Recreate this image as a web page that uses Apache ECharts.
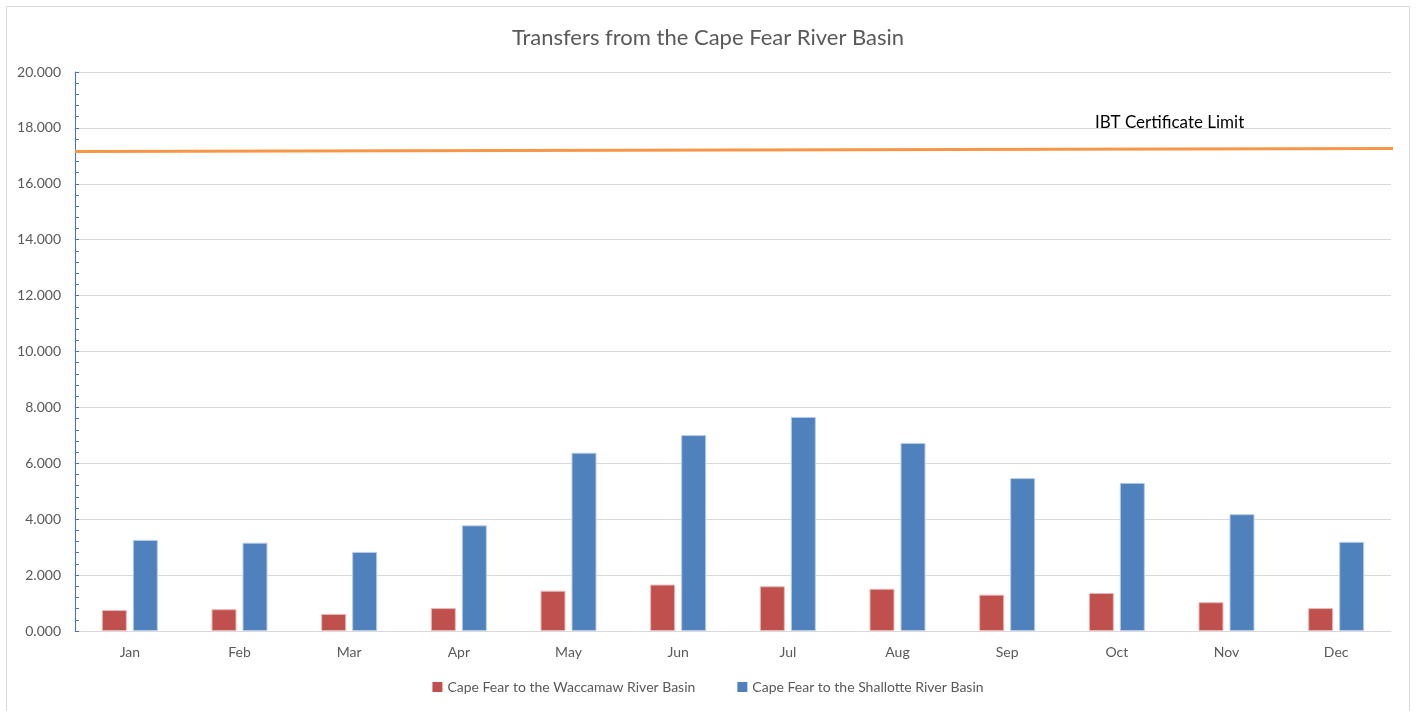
<!DOCTYPE html>
<html>
<head>
<meta charset="utf-8">
<script src="https://cdn.jsdelivr.net/npm/echarts@6/dist/echarts.min.js"></script>
<style>
  html, body { margin: 0; padding: 0; background: #fff; }
  #main { width: 1416px; height: 711px; }
</style>
</head>
<body>
<div id="main"></div>
<script>
// data
var months = ['Jan', 'Feb', 'Mar', 'Apr', 'May', 'Jun', 'Jul', 'Aug', 'Sep', 'Oct', 'Nov', 'Dec'];
var waccamaw = [0.75, 0.78, 0.61, 0.82, 1.44, 1.66, 1.60, 1.51, 1.30, 1.36, 1.03, 0.82];
var shallotte = [3.26, 3.16, 2.83, 3.78, 6.38, 7.01, 7.66, 6.73, 5.47, 5.30, 4.18, 3.19];
var limitX = [0, 1];
var limitY = [17.16, 17.26];

var font = 'Lato, "Liberation Sans", sans-serif';
var grey = '#595959';

var chart = echarts.init(document.getElementById('main'));

var option = {
    animation: false,
    textStyle: { fontFamily: font },
    title: {
        text: 'Transfers from the Cape Fear River Basin',
        left: 'center',
        top: 22,
        textStyle: { color: grey, fontSize: 22, fontWeight: 'normal', fontFamily: font }
    },
    legend: {
        bottom: 12,
        left: 'center',
        itemWidth: 10,
        itemHeight: 10,
        itemGap: 42,
        icon: 'rect',
        itemStyle: { borderWidth: 0 },
        textStyle: { color: grey, fontSize: 14, fontFamily: font },
        data: ['Cape Fear to the Waccamaw River Basin', 'Cape Fear to the Shallotte River Basin']
    },
    grid: { left: 75, right: 25, top: 72, bottom: 80 },
    xAxis: [
        {
            type: 'category',
            data: months,
            axisLine: { lineStyle: { color: '#d9d9d9' } },
            axisTick: { show: false },
            axisLabel: { color: grey, fontSize: 14, margin: 14 }
        },
        {
            type: 'value',
            min: 0,
            max: 0.996,
            show: false
        }
    ],
    yAxis: {
        type: 'value',
        min: 0,
        max: 20,
        interval: 2,
        axisLine: { show: true, lineStyle: { color: '#4472C4', width: 1 } },
        axisTick: { show: true, inside: true, length: 4, lineStyle: { color: '#4472C4' } },
        minorTick: { show: true, splitNumber: 5, length: 4, lineStyle: { color: '#4472C4' } },
        axisLabel: {
            color: grey,
            fontSize: 14,
            margin: 14,
            formatter: function (v) { return v.toFixed(3); }
        },
        splitLine: { lineStyle: { color: '#d9d9d9' } }
    },
    series: [
        {
            name: 'Cape Fear to the Waccamaw River Basin',
            type: 'bar',
            data: waccamaw,
            barWidth: 25,
            barGap: '24%',
            itemStyle: { color: '#C0504D', borderColor: '#e8b8b6', borderWidth: 1 }
        },
        {
            name: 'Cape Fear to the Shallotte River Basin',
            type: 'bar',
            data: shallotte,
            barWidth: 25,
            itemStyle: { color: '#4F81BD', borderColor: '#b9cde6', borderWidth: 1 }
        },
        {
            name: 'IBT Certificate Limit',
            type: 'line',
            xAxisIndex: 1,
            clip: false,
            symbol: 'none',
            data: limitX.map(function (x, i) { return [x, limitY[i]]; }),
            lineStyle: { color: '#F79646', width: 3 }
        }
    ],
    graphic: [
        {
            type: 'rect',
            shape: { x: 6.5, y: 6.5, width: 1403, height: 720 },
            style: { fill: null, stroke: '#d9d9d9', lineWidth: 1 },
            silent: true
        },
        {
            type: 'text',
            left: 1095,
            top: 114,
            style: { text: 'IBT Certificate Limit', fill: '#000', fontSize: 17, fontFamily: font }
        }
    ]
};

chart.setOption(option);
</script>
</body>
</html>
